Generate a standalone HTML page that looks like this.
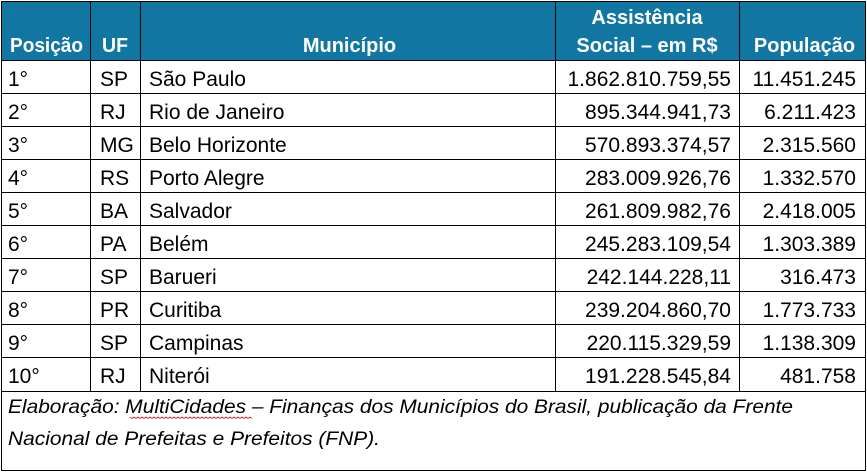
<!DOCTYPE html>
<html><head><meta charset="utf-8"><style>
html,body{margin:0;padding:0;background:#fff;}
svg{display:block;}
.h{font-family:"Liberation Sans",sans-serif;font-weight:bold;font-size:20px;fill:#fff;}
.b{font-family:"Liberation Sans",sans-serif;font-size:21px;fill:#000;}
.f{font-family:"Liberation Sans",sans-serif;font-style:italic;font-size:19px;fill:#000;}
</style></head><body>
<svg width="867" height="473" viewBox="0 0 867 473" xmlns="http://www.w3.org/2000/svg">
<rect x="0" y="0" width="867" height="473" fill="#fff"/>
<rect x="1" y="1" width="864" height="59" fill="#1276a2"/>
<g stroke="#000" stroke-width="1" fill="none" shape-rendering="crispEdges">
<line x1="1" y1="1.5" x2="866" y2="1.5"/>
<line x1="1" y1="60.5" x2="866" y2="60.5"/>
<line x1="1" y1="93.5" x2="866" y2="93.5"/>
<line x1="1" y1="126.5" x2="866" y2="126.5"/>
<line x1="1" y1="159.5" x2="866" y2="159.5"/>
<line x1="1" y1="192.5" x2="866" y2="192.5"/>
<line x1="1" y1="225.5" x2="866" y2="225.5"/>
<line x1="1" y1="258.5" x2="866" y2="258.5"/>
<line x1="1" y1="291.5" x2="866" y2="291.5"/>
<line x1="1" y1="324.5" x2="866" y2="324.5"/>
<line x1="1" y1="357.5" x2="866" y2="357.5"/>
<line x1="1" y1="391.5" x2="866" y2="391.5"/>
<line x1="1" y1="470.5" x2="866" y2="470.5"/>
<line x1="1.5" y1="1" x2="1.5" y2="471"/>
<line x1="865.5" y1="1" x2="865.5" y2="471"/>
<line x1="90.5" y1="1" x2="90.5" y2="392"/>
<line x1="140.5" y1="1" x2="140.5" y2="392"/>
<line x1="555.5" y1="1" x2="555.5" y2="392"/>
<line x1="739.5" y1="1" x2="739.5" y2="392"/>
</g>
<text class="h" x="10" y="52" textLength="73" lengthAdjust="spacingAndGlyphs">Posição</text>
<text class="h" x="102" y="52" textLength="26" lengthAdjust="spacingAndGlyphs">UF</text>
<text class="h" x="349.5" y="52" text-anchor="middle">Município</text>
<text class="h" x="647" y="24" text-anchor="middle">Assistência</text>
<text class="h" x="647" y="52" text-anchor="middle">Social – em R$</text>
<text class="h" x="804.5" y="52" text-anchor="middle">População</text>

<g class="b">
<text x="8" y="86">1°</text><text x="100" y="86">SP</text><text x="149" y="86">São Paulo</text><text x="731" y="86" text-anchor="end">1.862.810.759,55</text><text x="856" y="86" text-anchor="end">11.451.245</text>
<text x="8" y="119">2°</text><text x="100" y="119">RJ</text><text x="149" y="119">Rio de Janeiro</text><text x="731" y="119" text-anchor="end">895.344.941,73</text><text x="856" y="119" text-anchor="end">6.211.423</text>
<text x="8" y="152">3°</text><text x="100" y="152">MG</text><text x="149" y="152">Belo Horizonte</text><text x="731" y="152" text-anchor="end">570.893.374,57</text><text x="856" y="152" text-anchor="end">2.315.560</text>
<text x="8" y="185">4°</text><text x="100" y="185">RS</text><text x="149" y="185">Porto Alegre</text><text x="731" y="185" text-anchor="end">283.009.926,76</text><text x="856" y="185" text-anchor="end">1.332.570</text>
<text x="8" y="218">5°</text><text x="100" y="218">BA</text><text x="149" y="218">Salvador</text><text x="731" y="218" text-anchor="end">261.809.982,76</text><text x="856" y="218" text-anchor="end">2.418.005</text>
<text x="8" y="251">6°</text><text x="100" y="251">PA</text><text x="149" y="251">Belém</text><text x="731" y="251" text-anchor="end">245.283.109,54</text><text x="856" y="251" text-anchor="end">1.303.389</text>
<text x="8" y="284">7°</text><text x="100" y="284">SP</text><text x="149" y="284">Barueri</text><text x="731" y="284" text-anchor="end">242.144.228,11</text><text x="856" y="284" text-anchor="end">316.473</text>
<text x="8" y="317">8°</text><text x="100" y="317">PR</text><text x="149" y="317">Curitiba</text><text x="731" y="317" text-anchor="end">239.204.860,70</text><text x="856" y="317" text-anchor="end">1.773.733</text>
<text x="8" y="350">9°</text><text x="100" y="350">SP</text><text x="149" y="350">Campinas</text><text x="731" y="350" text-anchor="end">220.115.329,59</text><text x="856" y="350" text-anchor="end">1.138.309</text>
<text x="8" y="383">10°</text><text x="100" y="383">RJ</text><text x="149" y="383">Niterói</text><text x="731" y="383" text-anchor="end">191.228.545,84</text><text x="856" y="383" text-anchor="end">481.758</text>
</g>

<text class="f" x="8" y="413" textLength="785" lengthAdjust="spacingAndGlyphs">Elaboração: MultiCidades – Finanças dos Municípios do Brasil, publicação da Frente</text>
<text class="f" x="8" y="445" textLength="372" lengthAdjust="spacingAndGlyphs">Nacional de Prefeitas e Prefeitos (FNP).</text>
<polyline fill="none" stroke="#d02020" stroke-width="0.8" points="130,417 132,418.5 134,417 136,418.5 138,417 140,418.5 142,417 144,418.5 146,417 148,418.5 150,417 152,418.5 154,417 156,418.5 158,417 160,418.5 162,417 164,418.5 166,417 168,418.5 170,417 172,418.5 174,417 176,418.5 178,417 180,418.5 182,417 184,418.5 186,417 188,418.5 190,417 192,418.5 194,417 196,418.5 198,417 200,418.5 202,417 204,418.5 206,417 208,418.5 210,417 212,418.5 214,417 216,418.5 218,417 220,418.5 222,417 224,418.5 226,417 228,418.5 230,417 232,418.5 234,417 236,418.5 238,417 240,418.5 242,417 244,418.5 246,417 248,418.5 250,417 252,418.5"/>
</svg>
</body></html>
